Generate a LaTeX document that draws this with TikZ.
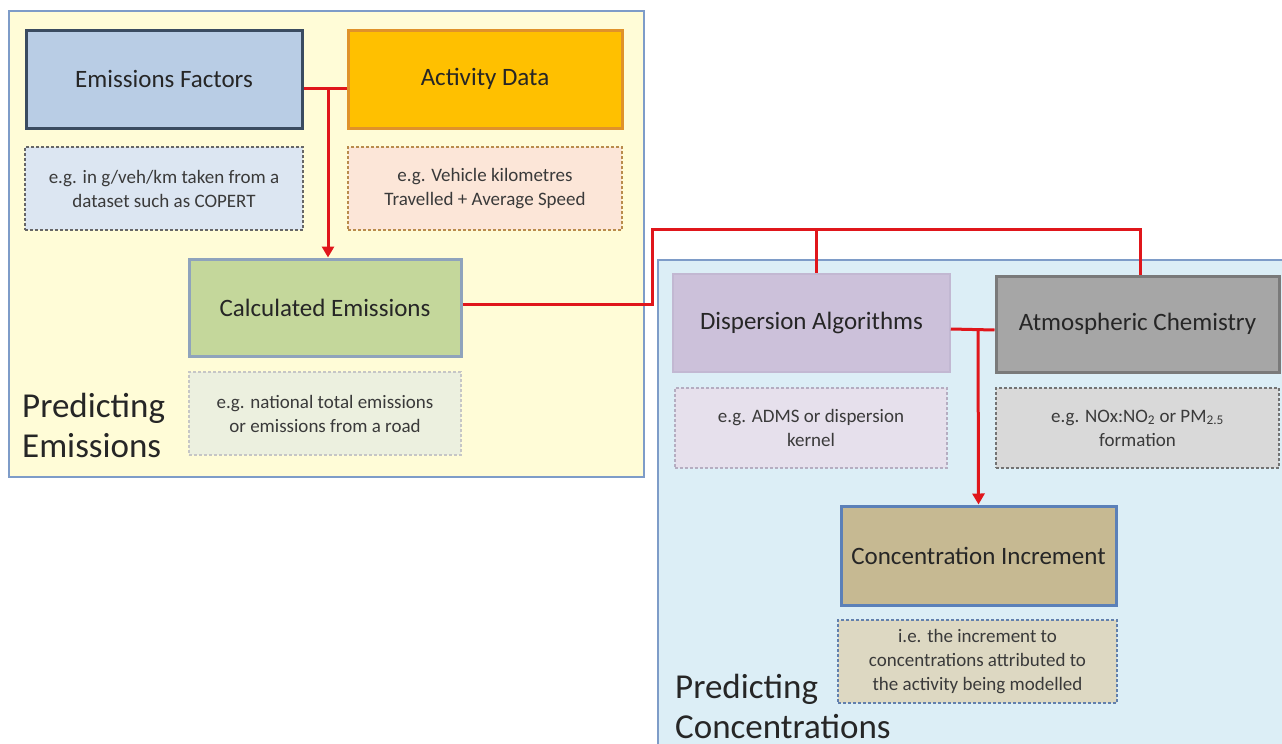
\documentclass[tikz,border=0pt]{standalone}
\usepackage{fontspec}
\setmainfont{Carlito}
\usetikzlibrary{arrows.meta,calc}
\definecolor{txt}{HTML}{262626}
\definecolor{ntxt}{HTML}{3A3A3A}
\definecolor{panelY}{HTML}{FFFCD7}
\definecolor{panelB}{HTML}{DCEEF6}
\definecolor{panelE}{HTML}{7E9CC8}
\definecolor{efF}{HTML}{B9CDE5}
\definecolor{efD}{HTML}{3A4B60}
\definecolor{adF}{HTML}{FFC000}
\definecolor{adD}{HTML}{E0922A}
\definecolor{ceF}{HTML}{C4D79B}
\definecolor{ceD}{HTML}{8FA3BC}
\definecolor{daF}{HTML}{CCC1DA}
\definecolor{daD}{HTML}{C2B8D2}
\definecolor{acF}{HTML}{A6A6A6}
\definecolor{acD}{HTML}{7A7A7A}
\definecolor{ciF}{HTML}{C6B992}
\definecolor{ciD}{HTML}{5B80B8}
\definecolor{efdF}{HTML}{DCE6F2}
\definecolor{addF}{HTML}{FCE6D8}
\definecolor{cedF}{HTML}{ECF0DF}
\definecolor{dadF}{HTML}{E6E0EC}
\definecolor{acdF}{HTML}{D9D9D9}
\definecolor{cidF}{HTML}{DDD8C2}
\definecolor{redline}{HTML}{E0161B}
\begin{document}
\begin{tikzpicture}[x=1pt,y=-1pt,
  panel/.style={draw=panelE,line width=2pt},
  titlebox/.style={line width=3pt,inner sep=0pt,text=txt,font=\fontsize{25}{29}\selectfont},
  notebox/.style={dashed,line width=1.2pt,dash pattern=on 3pt off 2pt,inner sep=0pt,text=ntxt,align=center,font=\fontsize{19}{24}\selectfont},
  bigtext/.style={anchor=west,align=left,text=txt,inner sep=0pt,font=\fontsize{35}{40}\selectfont},
  conn/.style={draw=redline,line width=3pt},
  arr/.style={conn,-{Triangle[width=12pt,length=11pt]}}]
\useasboundingbox (0,0) rectangle (1282,744);
\clip (0,0) rectangle (1282,744);
\fill[white] (0,0) rectangle (1282,744);
% panels
\draw[panel,fill=panelY] (9,11) rectangle (644,477);
\draw[panel,fill=panelB] (658,260) rectangle (1300,760);
% left panel boxes
\node[titlebox,draw=efD,fill=efF,minimum width=276pt,minimum height=98pt] (ef) at (164,79) {Emissions Factors};
\node[titlebox,draw=adD,fill=adF,minimum width=274pt,minimum height=98pt] (ad) at (485,79) {Activity Data};
\node[notebox,draw=gray!80!black,fill=efdF,minimum width=278pt,minimum height=83pt] (efd) at (164,188.5) {e.g. in g/veh/km taken from a\\dataset such as COPERT};
\node[notebox,draw=adD!60!gray,fill=addF,minimum width=274pt,minimum height=83pt] (add) at (485,188.5) {e.g. Vehicle kilometres\\Travelled + Average Speed};
\node[titlebox,draw=ceD,fill=ceF,minimum width=272pt,minimum height=97pt] (ce) at (325,307.5) {Calculated Emissions};
\node[notebox,draw=gray!45,fill=cedF,minimum width=272pt,minimum height=83pt] (ced) at (325,413.5) {e.g. national total emissions\\or emissions from a road};
\node[bigtext] (pe) at (22,425) {Predicting\\Emissions};
% right panel boxes
\node[titlebox,draw=daD,fill=daF,line width=1.5pt,minimum width=277pt,minimum height=98pt] (da) at (811.5,323) {Dispersion Algorithms};
\node[titlebox,draw=acD,fill=acF,minimum width=283pt,minimum height=96pt] (ac) at (1137.5,324) {Atmospheric Chemistry};
\node[notebox,draw=daD!80!gray,fill=dadF,minimum width=272pt,minimum height=80pt] (dad) at (811,428) {e.g. ADMS or dispersion\\kernel};
\node[notebox,draw=gray!90!black,fill=acdF,minimum width=283pt,minimum height=80pt] (acd) at (1137.5,428) {e.g. NOx:NO\textsubscript{2} or PM\textsubscript{2.5}\\formation};
\node[titlebox,draw=ciD,fill=ciF,minimum width=275pt,minimum height=99pt] (ci) at (978.5,555.5) {Concentration Increment};
\node[notebox,draw=ciD!80!gray,fill=cidF,minimum width=279pt,minimum height=83pt] (cid) at (977.5,661.5) {i.e. the increment to\\concentrations attributed to\\the activity being modelled};
\node[bigtext] (pc) at (675,706) {Predicting\\Concentrations};
% connectors
\coordinate (j1) at (328,88);
\draw[conn] ([yshift=-9pt]ef.east) -- ([yshift=-9pt]ad.west);
\draw[arr] (j1) -- (j1 |- ce.north);
\coordinate (bend1) at (652,304);
\coordinate (bend2) at (652,229);
\coordinate (j2) at (816,229);
\coordinate (bend3) at (1140,229);
\draw[conn] ([yshift=3.5pt]ce.east) -- (bend1) -- (bend2) -- (bend3) -- (bend3 |- ac.north);
\draw[conn] (j2) -- (j2 |- da.north);
\draw[conn] ([yshift=-6pt]da.east) -- ([yshift=-6pt]ac.west);
\coordinate (j3) at (978,329);
\draw[arr] (j3) -- (ci.north);
\end{tikzpicture}
\end{document}
